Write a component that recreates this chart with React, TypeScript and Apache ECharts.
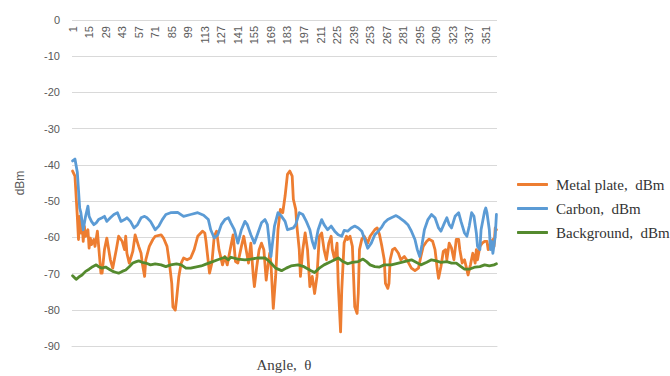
import React, { useEffect, useRef } from "react";
import * as echarts from "echarts";

// Angle categories 1..360 (tick labels every 14th: 1, 15, 29, ... 351)
const angleCategories: string[] = Array.from({ length: 360 }, (_, i) => String(i + 1));

const yTicks = { min: -90, max: 0, step: 10 };

// [angle, dBm] readings
const metalPlate: [number, number][] = [
  [1, -41.7], [3, -43.1], [5, -54.2], [6, -60.6], [7, -54.2], [8, -58.8], [9, -55.6], [10, -61.1],
  [11, -57.0], [12, -59.7], [14, -57.9], [15, -63.0], [16, -60.2], [17, -62.0], [19, -60.6], [20, -62.5],
  [22, -58.3], [25, -69.9], [26, -69.9], [28, -63.4], [30, -60.2], [33, -66.2], [35, -68.5], [38, -63.4],
  [40, -59.7], [43, -61.1], [45, -63.4], [46, -59.7], [47, -64.4], [49, -67.1], [52, -63.9], [54, -59.3],
  [57, -62.5], [59, -64.4], [60, -67.1], [62, -70.8], [63, -66.2], [66, -62.5], [69, -60.6], [71, -59.7],
  [76, -59.3], [78, -60.2], [81, -62.5], [83, -67.1], [85, -72.7], [86, -79.2], [88, -80.1], [89, -77.3],
  [91, -70.8], [93, -67.1], [95, -65.7], [98, -66.2], [101, -65.7], [104, -63.4], [107, -59.7], [111, -58.3],
  [113, -58.8], [114, -61.1], [117, -69.9], [119, -67.1], [121, -59.7], [123, -58.3], [125, -63.4], [128, -67.6],
  [130, -65.3], [132, -67.6], [135, -62.5], [137, -59.3], [139, -66.7], [141, -67.1], [144, -62.5], [146, -59.7],
  [148, -63.4], [150, -67.1], [152, -61.6], [154, -70.4], [155, -73.6], [157, -68.1], [159, -63.4], [161, -61.6],
  [163, -63.4], [165, -71.8], [166, -69.0], [168, -64.4], [169, -67.1], [171, -79.6], [173, -70.8], [175, -57.9],
  [177, -52.3], [179, -53.2], [181, -48.6], [183, -42.6], [185, -41.7], [187, -43.1], [188, -49.5], [190, -52.3],
  [191, -56.9], [193, -63.4], [194, -70.8], [196, -63.4], [198, -58.8], [200, -63.4], [202, -73.6], [204, -70.8],
  [206, -75.5], [208, -70.8], [210, -59.7], [212, -58.8], [214, -63.4], [216, -66.2], [218, -61.6], [220, -59.7],
  [221, -63.4], [223, -66.2], [225, -61.6], [226, -72.7], [228, -86.1], [229, -74.5], [231, -61.5], [233, -59.7],
  [234, -60.6], [236, -59.7], [238, -62.5], [239, -70.8], [240, -79.2], [242, -81.0], [243, -75.5], [244, -63.4],
  [246, -60.5], [248, -59.7], [251, -61.6], [253, -59.7], [255, -58.8], [257, -57.9], [259, -57.4], [261, -59.3],
  [263, -62.5], [265, -66.2], [266, -72.7], [268, -74.1], [269, -72.7], [270, -66.2], [272, -63.4], [274, -63.0],
  [277, -64.4], [279, -66.2], [282, -65.3], [285, -66.7], [288, -68.5], [291, -69.2], [294, -68.5], [296, -65.3],
  [298, -62.5], [301, -61.1], [303, -60.5], [306, -61.1], [308, -63.4], [310, -69.0], [311, -71.3], [313, -68.1],
  [315, -63.9], [317, -63.4], [318, -66.2], [320, -61.6], [322, -63.0], [324, -66.2], [326, -60.6], [328, -60.6],
  [329, -63.4], [331, -67.1], [333, -66.2], [335, -69.0], [336, -70.4], [338, -67.6], [340, -64.4], [342, -67.1],
  [343, -63.4], [344, -66.2], [346, -62.5], [348, -61.6], [350, -61.1], [352, -61.1], [353, -63.4], [355, -61.6],
  [357, -60.6], [358, -62.5], [359, -57.4], [360, -57.9],
];

const carbon: [number, number][] = [
  [1, -38.9], [3, -38.4], [5, -42.0], [7, -51.9], [8, -53.2], [10, -57.9], [12, -54.2], [14, -51.4],
  [15, -54.2], [17, -55.6], [19, -56.5], [21, -56.0], [23, -55.1], [26, -54.6], [28, -54.2], [30, -55.6],
  [33, -54.6], [36, -53.7], [39, -53.2], [42, -55.6], [45, -55.1], [47, -54.6], [50, -55.6], [53, -57.4],
  [56, -56.5], [59, -54.6], [62, -54.2], [64, -54.6], [67, -55.6], [71, -57.9], [74, -56.9], [77, -55.1],
  [80, -53.7], [84, -53.2], [90, -53.1], [95, -54.2], [101, -53.7], [107, -53.2], [112, -53.9], [116, -55.1],
  [118, -57.9], [121, -60.2], [124, -59.3], [127, -56.5], [130, -55.1], [133, -54.6], [135, -56.0], [138, -57.9],
  [141, -61.6], [144, -57.9], [147, -55.6], [149, -56.5], [152, -59.3], [155, -61.6], [158, -58.8], [161, -56.0],
  [164, -55.1], [166, -56.5], [169, -65.3], [172, -56.9], [175, -53.2], [178, -54.2], [181, -55.6], [183, -57.9],
  [186, -57.6], [188, -57.4], [190, -56.5], [193, -53.2], [196, -53.7], [199, -55.6], [202, -57.9], [204, -61.1],
  [206, -63.0], [209, -57.9], [212, -55.1], [214, -56.5], [217, -57.9], [220, -56.9], [223, -58.3], [226, -59.3],
  [229, -59.7], [231, -58.1], [234, -58.3], [237, -57.4], [240, -56.9], [243, -57.4], [246, -58.3], [248, -60.2],
  [251, -63.0], [254, -61.6], [257, -59.3], [260, -58.3], [263, -57.1], [265, -56.0], [268, -55.1], [271, -54.6],
  [275, -54.0], [278, -54.6], [282, -55.6], [285, -56.5], [288, -58.3], [291, -60.6], [293, -63.4], [295, -65.3],
  [297, -62.0], [299, -57.9], [302, -55.1], [305, -53.7], [308, -54.6], [311, -57.4], [313, -58.3], [316, -56.0],
  [318, -54.6], [320, -56.5], [322, -57.4], [325, -54.2], [328, -53.2], [330, -55.6], [333, -58.8], [335, -59.7],
  [337, -56.9], [339, -53.2], [341, -54.2], [343, -58.8], [344, -62.5], [346, -63.4], [347, -57.9], [350, -52.8],
  [351, -51.9], [352, -53.2], [354, -57.9], [355, -63.4], [356, -61.1], [357, -64.4], [359, -59.7], [360, -53.7],
];

const background: [number, number][] = [
  [1, -70.6], [4, -71.6], [7, -70.8], [9, -70.4], [12, -69.4], [15, -68.8], [18, -68.1], [21, -67.6],
  [23, -68.1], [26, -68.5], [29, -68.2], [32, -68.8], [35, -69.4], [38, -69.7], [40, -69.9], [43, -69.4],
  [46, -69.0], [49, -68.1], [52, -67.1], [55, -66.7], [57, -66.5], [60, -66.9], [63, -67.1], [67, -67.6],
  [71, -67.3], [76, -67.6], [80, -68.1], [84, -67.6], [89, -67.3], [93, -67.6], [97, -68.5], [101, -68.5],
  [105, -68.2], [110, -67.9], [114, -67.4], [118, -66.9], [124, -66.2], [130, -65.5], [133, -66.2], [135, -65.5],
  [141, -66.0], [147, -66.2], [152, -66.0], [158, -65.7], [164, -65.7], [166, -66.2], [169, -67.1], [173, -68.5],
  [178, -69.2], [182, -68.5], [186, -67.9], [192, -67.6], [197, -68.1], [203, -69.2], [206, -69.7], [210, -68.5],
  [214, -67.6], [220, -66.7], [226, -65.7], [230, -66.7], [234, -67.3], [238, -66.9], [243, -66.7], [247, -66.0],
  [250, -66.7], [253, -67.6], [257, -68.1], [261, -68.2], [265, -67.6], [271, -67.6], [277, -67.1], [282, -66.7],
  [288, -66.2], [292, -66.9], [296, -67.6], [301, -66.9], [305, -66.2], [309, -66.5], [313, -66.9], [318, -66.7],
  [322, -67.1], [326, -67.1], [330, -68.1], [333, -68.8], [337, -68.8], [342, -68.2], [346, -68.1], [350, -67.6],
  [354, -67.9], [358, -67.6], [360, -67.3],
];

const seriesNames = ["Metal plate,  dBm", "Carbon,  dBm", "Background,  dBm"];
const seriesColors = ["#ED7D31", "#5B9BD5", "#548A2E"];

const toIndexed = (pts: [number, number][]) => pts.map(([a, v]) => [a - 1, v]);

export default function App() {
  const ref = useRef<HTMLDivElement>(null);
  useEffect(() => {
    if (!ref.current) return;
    const chart = echarts.init(ref.current, undefined, { renderer: "svg" });
    const gridTop = 20;
    const gridBottom = 30;
    const gridHeight = 376 - gridTop - gridBottom;
    const datasets = [metalPlate, carbon, background];
    chart.setOption({
      animation: false,
      backgroundColor: "#ffffff",
      grid: { left: 72, right: 173, top: gridTop, bottom: gridBottom, containLabel: false },
      title: {
        text: "Angle,  θ",
        left: 284,
        top: 357,
        textAlign: "center",
        padding: 0,
        textStyle: { fontFamily: "Liberation Serif", fontSize: 15, fontWeight: "normal", color: "#404040" },
      },
      legend: {
        orient: "vertical",
        left: 517,
        top: 177,
        icon: "roundRect",
        itemWidth: 31,
        itemHeight: 3,
        itemGap: 9,
        padding: 0,
        data: seriesNames,
        textStyle: { fontFamily: "Liberation Serif", fontSize: 15, color: "#333333", padding: [0, 0, 0, 3] },
      },
      xAxis: {
        type: "category",
        data: angleCategories,
        boundaryGap: true,
        position: "bottom",
        offset: -gridHeight,
        axisLine: { show: true, lineStyle: { color: "#d9d9d9", width: 1 } },
        axisTick: { show: false },
        splitLine: { show: false },
        axisLabel: {
          interval: 13,
          rotate: 90,
          margin: 6,
          fontSize: 11,
          fontFamily: "Liberation Sans",
          color: "#595959",
        },
      },
      yAxis: {
        type: "value",
        min: yTicks.min,
        max: yTicks.max,
        interval: yTicks.step,
        axisLine: { show: false },
        axisTick: { show: false },
        splitLine: { lineStyle: { color: "#d9d9d9", width: 1 } },
        axisLabel: { fontSize: 11, fontFamily: "Liberation Sans", color: "#595959", margin: 12 },
        name: "dBm",
        nameLocation: "middle",
        nameRotate: 90,
        nameGap: 46,
        nameTextStyle: { fontSize: 12, fontFamily: "Liberation Sans", color: "#595959" },
      },
      series: datasets.map((pts, i) => ({
        name: seriesNames[i],
        type: "line",
        data: toIndexed(pts),
        showSymbol: false,
        symbol: "none",
        lineStyle: { width: 2.8, color: seriesColors[i], join: "round", cap: "round" },
        itemStyle: { color: seriesColors[i] },
      })),
    });
    return () => chart.dispose();
  }, []);
  return (
    <div
      ref={ref}
      style={{ position: "absolute", left: 0, top: 0, width: 670, height: 376, background: "#fff" }}
    />
  );
}
